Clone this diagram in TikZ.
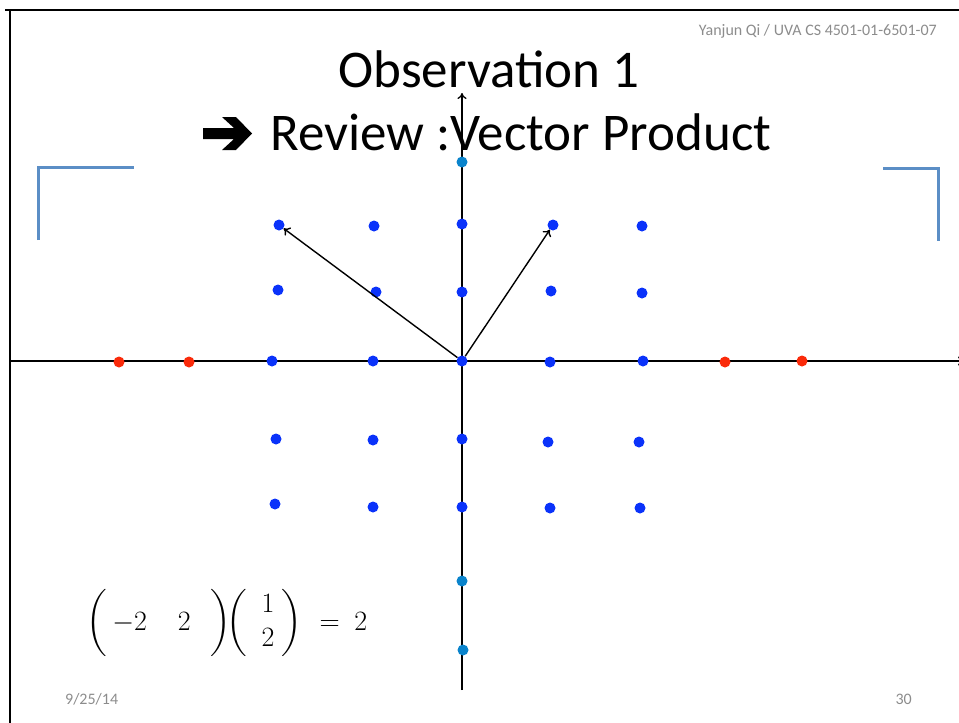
\documentclass[tikz,border=0pt]{standalone}
\usepackage{amsmath}
\usepackage[no-math]{fontspec}
\setmainfont{Carlito}
\usetikzlibrary{arrows.meta}
\definecolor{dotblue}{HTML}{0A32FA}
\definecolor{dotred}{HTML}{FA2A0A}
\definecolor{dotlight}{HTML}{0A84CC}
\definecolor{brk}{HTML}{5B8EC6}
\definecolor{graytxt}{HTML}{8C8C8C}
\tikzset{
  dotb/.style={circle,fill=dotblue,inner sep=0pt,minimum size=11pt},
  dotr/.style={circle,fill=dotred,inner sep=0pt,minimum size=11pt},
  dotl/.style={circle,fill=dotlight,inner sep=0pt,minimum size=11pt},
  axis/.style={line width=1.3pt,black},
  vec/.style={line width=1.4pt,black,-{To[length=6pt,width=10pt]}},
  bracket/.style={line width=3pt,brk},
  small/.style={text=graytxt,font=\fontsize{16}{19}\selectfont,inner sep=0pt},
  title/.style={font=\fontsize{53}{60}\selectfont,inner sep=0pt}
}
\begin{document}
\begin{tikzpicture}[x=1pt,y=-1pt]
\useasboundingbox (0,0) rectangle (959,723);
\clip (0,0) rectangle (959,723);
% frame
\draw[line width=2pt] (5,10) -- (959,10);
\draw[line width=2pt] (10,10) -- (10,723);
% brackets
\draw[bracket] (38,240) -- (38,167) -- (134,167);
\draw[bracket] (883,168) -- (938,168) -- (938,241);
% header/footer
\node[small,anchor=base east] (hdr) at (937,35) {Yanjun Qi / UVA CS 4501-01-6501-07};
\node[small,anchor=base west] (date) at (65,704) {9/25/14};
\node[small,anchor=base east] (page) at (912,704) {30};
% axes
\coordinate (xl) at (10,361);
\coordinate (xr) at (964,361);
\coordinate (yb) at (462,690);
\coordinate (yt) at (462,93);
\draw[axis,-{To[length=6pt,width=9pt]}] (xl) -- (xr);
\draw[axis,-{To[length=6pt,width=9pt]}] (yb) -- (yt);
% title
\node[title,anchor=base] (t1) at (489,87) {Observation 1};
\node[title,anchor=base west] (t2) at (270,150) {Review :Vector Product};
\fill[black] (203,128) -- (234,128) -- (222,117) -- (236,117) -- (252,133.5)
  -- (236,150) -- (222,150) -- (234,139) -- (203,139) -- cycle;
% dots
\node[dotb] (a1) at (279,225) {};
\node[dotb] (a2) at (374,226) {};
\node[dotb] (a3) at (462,224) {};
\node[dotb] (a4) at (553,225) {};
\node[dotb] (a5) at (642,226) {};
\node[dotb] (b1) at (278,290) {};
\node[dotb] (b2) at (376,292) {};
\node[dotb] (b3) at (462,292) {};
\node[dotb] (b4) at (551,291) {};
\node[dotb] (b5) at (642,293) {};
\node[dotr] (r1) at (119,362) {};
\node[dotr] (r2) at (189,362) {};
\node[dotb] (c1) at (272,361) {};
\node[dotb] (c2) at (373,361) {};
\node[dotb] (o)  at (462,361) {};
\node[dotb] (c4) at (550,362) {};
\node[dotb] (c5) at (643,361) {};
\node[dotr] (r3) at (725,362) {};
\node[dotr] (r4) at (802,361) {};
\node[dotb] (d1) at (276,439) {};
\node[dotb] (d2) at (373,440) {};
\node[dotb] (d3) at (462,439) {};
\node[dotb] (d4) at (548,442) {};
\node[dotb] (d5) at (639,442) {};
\node[dotb] (e1) at (275,504) {};
\node[dotb] (e2) at (373,507) {};
\node[dotb] (e3) at (462,507) {};
\node[dotb] (e4) at (550,508) {};
\node[dotb] (e5) at (640,508) {};
\node[dotl] (l1) at (462,162) {};
\node[dotl] (l2) at (462,581) {};
\node[dotl] (l3) at (463,650) {};
% vectors
\draw[vec] (o) -- (a1);
\draw[vec] (o) -- (a4);
% equation
\node[anchor=base west,inner sep=0pt,scale=1.35,font=\fontsize{20.74}{25}\selectfont] (eq) at (86,630)
  {$\left(\vphantom{\begin{matrix}1\\2\end{matrix}}\hspace{4pt}{-2}\hspace{23pt}2\hspace{14.5pt}\right)\!\!\left(\hspace{10.9pt}\begin{matrix}1\\2\end{matrix}\hspace{5.5pt}\right)\hspace{7pt}=\hspace{5pt}2$};
\end{tikzpicture}
\end{document}
